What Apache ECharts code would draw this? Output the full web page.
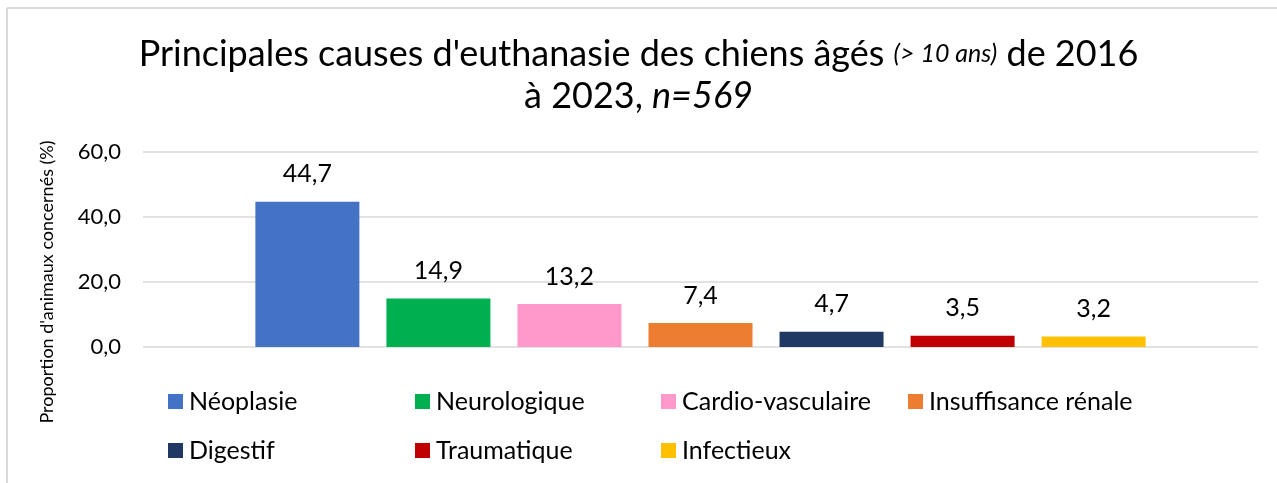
<!DOCTYPE html>
<html>
<head>
<meta charset="utf-8">
<script src="https://cdn.jsdelivr.net/npm/echarts@6/dist/echarts.min.js"></script>
<style>
  html, body { margin: 0; padding: 0; background: #fff; }
  #chart { width: 1277px; height: 483px; }
</style>
</head>
<body>
<div id="chart"></div>
<script>
// causes and share of animals (%)
const causes = ["Néoplasie", "Neurologique", "Cardio-vasculaire", "Insuffisance rénale", "Digestif", "Traumatique", "Infectieux"];
const values = [44.7, 14.9, 13.2, 7.4, 4.7, 3.5, 3.2];
const colors = ["#4472c4", "#00b050", "#ff99cc", "#ed7d31", "#203864", "#c00000", "#ffc000"];
const yTicks = { min: 0, max: 60, interval: 20 };

// legend grid: 4 columns, 2 rows (layout only)
const legendCols = [163, 410, 656, 903];
const legendRows = [384, 433];

const fontFamily = "Lato, 'Open Sans', sans-serif";
const fmt = (v) => v.toFixed(1).replace(".", ",");

const chart = echarts.init(document.getElementById("chart"));

const series = causes.map((name, i) => ({
    name: name,
    type: "bar",
    data: [values[i]],
    barWidth: 104,
    barGap: "26%",
    itemStyle: { color: colors[i] },
    label: {
        show: true,
        position: "top",
        distance: 15,
        color: "#000",
        fontSize: 25,
        fontFamily: fontFamily,
        formatter: (p) => fmt(p.value),
    },
}));

const legends = causes.map((name, i) => ({
    data: [name],
    left: legendCols[i % 4],
    top: legendRows[Math.floor(i / 4)],
    itemWidth: 15,
    itemHeight: 15,
    itemGap: 6,
    icon: "rect",
    textStyle: { fontSize: 25, color: "#000", fontFamily: fontFamily, padding: [0, 0, 0, 1] },
}));

const titleStyle = {
    fontSize: 36,
    fontWeight: "normal",
    color: "#000",
    fontFamily: fontFamily,
    rich: {
        it: { fontSize: 25, fontStyle: "italic", fontFamily: fontFamily, color: "#000" },
        it2: { fontSize: 36, fontStyle: "italic", fontFamily: fontFamily, color: "#000" },
    },
};

const option = {
    animation: false,
    backgroundColor: "#fff",
    textStyle: { fontFamily: fontFamily },
    title: [
        {
            text: "Principales causes d'euthanasie des chiens âgés {it|(> 10 ans)} de 2016",
            left: "center",
            top: 31,
            textStyle: titleStyle,
        },
        {
            text: "à 2023, {it2|n=569}",
            left: "center",
            top: 73,
            textStyle: titleStyle,
        },
    ],
    legend: legends,
    grid: {
        left: 143,
        right: 19,
        top: 152,
        bottom: 136,
    },
    xAxis: {
        type: "category",
        data: [""],
        axisLine: { show: false },
        axisTick: { show: false },
        axisLabel: { show: false },
    },
    yAxis: {
        type: "value",
        min: yTicks.min,
        max: yTicks.max,
        interval: yTicks.interval,
        axisLine: { show: false },
        axisTick: { show: false },
        axisLabel: {
            color: "#000",
            fontSize: 22,
            margin: 22,
            fontFamily: fontFamily,
            formatter: (v) => fmt(v),
        },
        splitLine: { lineStyle: { color: "#d9d9d9", width: 1.5 } },
    },
    graphic: [
        {
            type: "text",
            rotation: Math.PI / 2,
            x: 47,
            y: 282,
            style: {
                text: "Proportion d'animaux concernés (%)",
                fontSize: 18,
                fontFamily: fontFamily,
                fill: "#000",
                align: "center",
                verticalAlign: "middle",
            },
        },
        {
            type: "line",
            shape: { x1: 7, y1: 8, x2: 1277, y2: 8 },
            style: { stroke: "#d9d9d9", lineWidth: 2 },
        },
        {
            type: "line",
            shape: { x1: 7, y1: 8, x2: 7, y2: 483 },
            style: { stroke: "#d9d9d9", lineWidth: 2 },
        },
    ],
    series: series,
};

chart.setOption(option);
</script>
</body>
</html>
